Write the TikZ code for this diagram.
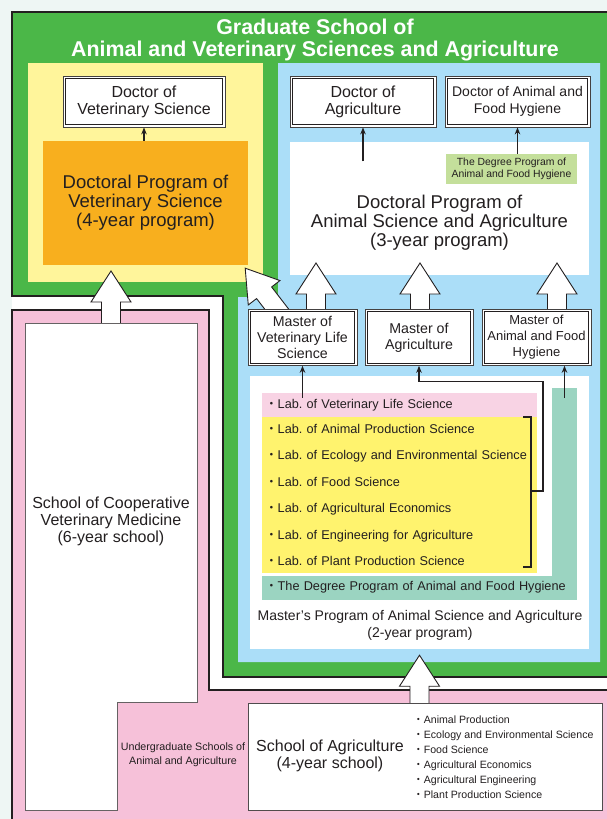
\documentclass[tikz,border=0pt]{standalone}
\usepackage{fontspec}
\setmainfont{Liberation Sans}
\newfontfamily\jpfont{Noto Sans CJK JP}
\usetikzlibrary{positioning,calc,arrows.meta}
\frenchspacing

\definecolor{ink}{HTML}{231F20}
\definecolor{bgtint}{HTML}{EEF6F4}
\definecolor{grn}{HTML}{4BB748}
\definecolor{lightyel}{HTML}{FFF59B}
\definecolor{orng}{HTML}{F8AF1E}
\definecolor{skyblu}{HTML}{ABDEF8}
\definecolor{pinkbg}{HTML}{F6C1D9}
\definecolor{labpink}{HTML}{F8D3E4}
\definecolor{labyel}{HTML}{FFF36E}
\definecolor{hygteal}{HTML}{9BD4C1}
\definecolor{hyggreen}{HTML}{C4DF9B}

\newcommand{\nkg}{{\jpfont ・}}
\newcommand{\fsz}[2]{\fontsize{#1}{#2}\selectfont}
% hollow block arrow from #1 (tail) to #2 (tip)
\newcommand{\fatarrow}[2]{%
  \path (#1) coordinate (fatail) (#2) coordinate (fatip) ($(fatip)!31pt!(fatail)$) coordinate (fabase);
  \draw[fat] ($(fatail)!9.5pt!90:(fatip)$) -- ($(fabase)!9.5pt!90:(fatip)$) -- ($(fabase)!20pt!90:(fatip)$)
    -- (fatip) -- ($(fabase)!20pt!-90:(fatip)$) -- ($(fabase)!9.5pt!-90:(fatip)$) -- ($(fatail)!9.5pt!-90:(fatip)$);}

\begin{document}
\begin{tikzpicture}[x=1pt,y=-1pt,
  every node/.style={text=ink, inner sep=0pt},
  degree/.style={draw=ink!85, line width=0.8pt, fill=white, align=center},
  arr/.style={draw=ink, line width=1.3pt, -{Stealth[length=7pt,width=5.5pt]}},
  fat/.style={draw=ink, fill=white, line width=0.9pt, line join=miter},
  labrow/.style={minimum height=26pt, text width=269pt, inner xsep=3pt, align=left, text height=9pt, text depth=3pt, font=\fsz{12.7}{15}},
]
\useasboundingbox (0,0) rectangle (607,819);
\fill[bgtint] (0,0) rectangle (607,819);
\fill[white] (12,12) rectangle (620,830);

% undergraduate and graduate areas
\draw[fill=pinkbg, draw=ink, line width=1.3pt] (12,310) -- (209,310) -- (209,690) -- (620,690) -- (620,830) -- (12,830) -- cycle;
\draw[fill=grn, draw=ink, line width=1.3pt] (12,12) -- (620,12) -- (620,677) -- (223,677) -- (223,296) -- (12,296) -- cycle;
\fill[lightyel] (28,63) rectangle (263,282);
\fill[skyblu] (278,63) -- (600,63) -- (600,662) -- (238,662) -- (238,297) -- (278,297) -- cycle;

\node[text=white, font=\bfseries\fsz{21.4}{22}, align=center] (title) at (315,40) {Graduate School of\\Animal and Veterinary Sciences and Agriculture};

\node[fill=orng, minimum width=205, minimum height=124, align=center, font=\fsz{18.5}{19}] (dprogvet) at (145.5,203) {Doctoral Program of\\Veterinary Science\\(4-year program)};
\node[fill=white, minimum width=299, minimum height=133] (dprogasa) at (439.5,208.5) {};
\node[align=center, font=\fsz{18.5}{19}] (dprogtxt) at (439.5,223) {Doctoral Program of\\Animal Science and Agriculture\\(3-year program)};
\node[fill=hyggreen, minimum width=131, minimum height=30, align=center, font=\fsz{10.4}{12}] (dphyg) at (511.5,169) {The Degree Program of\\Animal and Food Hygiene};

\node[fill=white, minimum width=339, minimum height=273] (mprog) at (419.5,512.5) {};
\node[align=center, font=\fsz{14}{17}] (mprogtxt) at (420,625) {Master’s Program of Animal Science and Agriculture\\(2-year program)};

\fill[hygteal] (552,388) rectangle (577,580);
\fill[labyel] (262,416) rectangle (537,573);
\node[labrow, fill=labpink, minimum height=24pt] (labvls) at (399.5,405) {\nkg Lab. of Veterinary Life Science};
\node[labrow, below=0pt of labvls] (labaps) {\nkg Lab. of Animal Production Science};
\node[labrow, below=0pt of labaps] (labees) {\nkg Lab. of Ecology and Environmental Science};
\node[labrow, below=0pt of labees] (labfs) {\nkg Lab. of Food Science};
\node[labrow, below=0pt of labfs] (labae) {\nkg Lab. of Agricultural Economics};
\node[labrow, below=0pt of labae] (labefa) {\nkg Lab. of Engineering for Agriculture};
\node[labrow, below=0pt of labefa] (labpps) {\nkg Lab. of Plant Production Science};
\node[labrow, fill=hygteal, minimum height=24pt, text width=309pt, anchor=north west] (labhyg) at (labpps.south west) {\nkg The Degree Program of Animal and Food Hygiene};

% block arrows
\coordinate (vetmedtop) at (111,323);
\coordinate (vettip) at (111,271);
\coordinate (mvettop) at (302.5,309);
\coordinate (magrtop) at (419,309);
\coordinate (mafhtop) at (536.5,309);
\fatarrow{vetmedtop}{vettip}
\fatarrow{$(mvettop)+(-20.5,7)$}{$(dprogvet.south east)+(-3,3)$}
\fatarrow{$(mvettop)+(13.5,0)$}{$(mvettop)+(13.5,-46)$}
\fatarrow{$(magrtop)+(1,0)$}{$(magrtop)+(1,-46)$}
\fatarrow{$(mafhtop)+(20.5,0)$}{$(mafhtop)+(20.5,-46)$}
\fatarrow{mprog.south |- 0,703}{$(mprog.south)+(0,6)$}

\node[degree, minimum width=162, minimum height=51, font=\fsz{16}{17}] (docvet) at (144,101.5) {Doctor of\\Veterinary Science};
\node[degree, minimum width=146, minimum height=51, font=\fsz{16}{17}] (docagr) at (363,101.5) {Doctor of\\Agriculture};
\node[degree, minimum width=145, minimum height=51, font=\fsz{14}{17}] (docafh) at (517.5,101.5) {Doctor of Animal and\\Food Hygiene};

\node[degree, minimum width=109, minimum height=56, font=\fsz{14.2}{16}, anchor=north] (mvet) at (mvettop) {Master of\\Veterinary Life\\Science};
\node[degree, minimum width=108, minimum height=56, font=\fsz{14.2}{16}, anchor=north] (magr) at (magrtop) {Master of\\Agriculture};
\node[degree, minimum width=109, minimum height=56, font=\fsz{13}{16}, anchor=north] (mafh) at (mafhtop) {Master of\\Animal and Food\\Hygiene};
\foreach \b in {docvet,docagr,docafh,mvet,magr,mafh}
  \draw[ink, line width=0.7pt] ($(\b.north west)+(2.6,2.6)$) rectangle ($(\b.south east)+(-2.6,-2.6)$);

\draw[fill=white, draw=ink!70, line width=0.7pt] (25,323) -- (197,323) -- (197,702) -- (117,702) -- (117,810) -- (25,810) -- cycle;
\node[align=center, font=\fsz{16}{17}] (vetmed) at (111,521) {School of Cooperative\\Veterinary Medicine\\(6-year school)};
\node[align=center, font=\fsz{10.7}{14}] (ugrad) at (183,755) {Undergraduate Schools of\\Animal and Agriculture};

\node[draw=ink!80, fill=white, line width=0.7pt, minimum width=354, minimum height=107] (agsch) at (425,756.5) {};
\node[align=center, font=\fsz{16}{17.5}] (agschtxt) at (330,756) {School of Agriculture\\(4-year school)};
\node[align=left, anchor=west, font=\fsz{10.6}{15}] (agschlist) at (413,757) {\nkg Animal Production\\\nkg Ecology and Environmental Science\\\nkg Food Science\\\nkg Agricultural Economics\\\nkg Agricultural Engineering\\\nkg Plant Production Science};

% thin arrows
\draw[arr] (dprogvet.north -| docvet.south) -- (docvet.south);
\draw[arr] ($(docagr.south)+(0,34)$) -- (docagr.south);
\draw[arr] (dphyg.north -| docafh.south) -- (docafh.south);
\draw[arr] ($(mvet.south |- labvls.north)+(0,5)$) -- (mvet.south);
\coordinate (hygtop) at (564.5,398);
\draw[arr] (hygtop) -- (hygtop |- mafh.south);
\draw[draw=ink, line width=1.3pt] (523,417) -- (531,417) -- (531,567) -- (523,567);
\coordinate (brk) at (531,491);
\draw[arr] (brk) -- ++(12,0) |- ($(magr.south)+(0,16)$) -- (magr.south);

\end{tikzpicture}
\end{document}
